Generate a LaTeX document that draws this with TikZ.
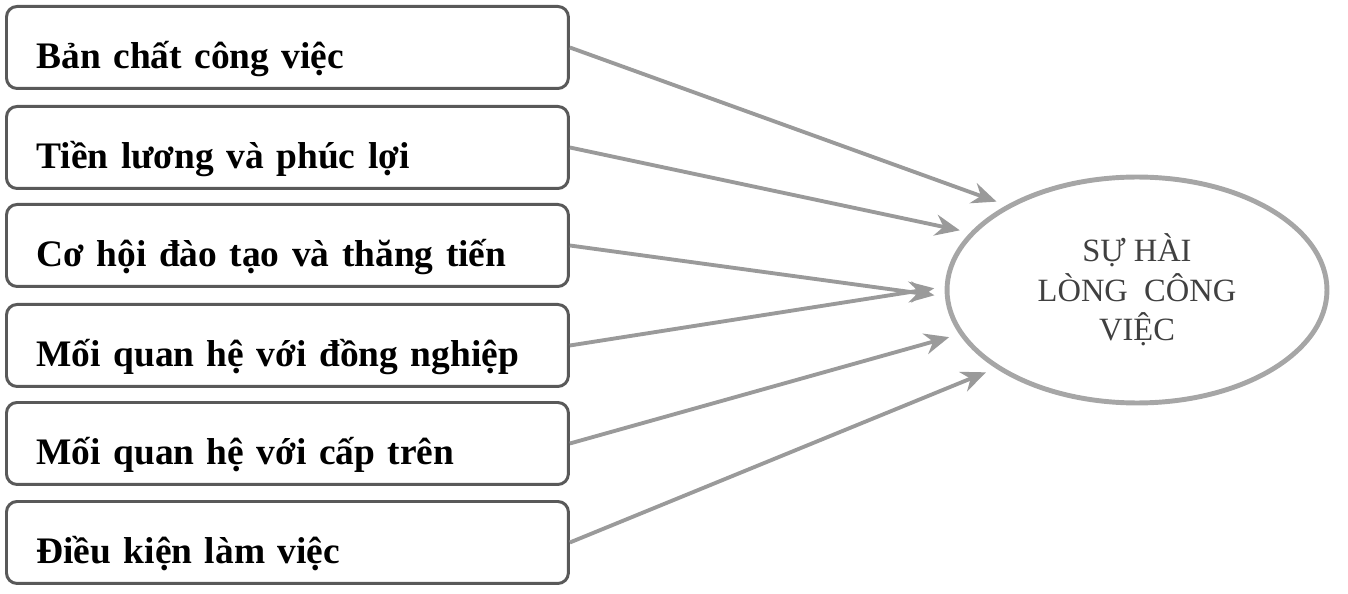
\documentclass[tikz,border=0pt]{standalone}
\usepackage{fontspec}
\setmainfont{Liberation Serif}
\usetikzlibrary{shapes.geometric,arrows.meta}
\definecolor{boxline}{HTML}{595959}
\definecolor{arrowgray}{HTML}{9A9A9A}
\definecolor{ringgray}{HTML}{A6A6A6}
\tikzset{
  factor/.style = {draw = boxline, line width = 1.7pt, rounded corners = 6pt, anchor = north west,
    minimum width = 11.24cm, inner xsep = 0.6cm, inner ysep = 0pt, text width = 10.04cm,
    text height = 1.24cm, text depth = 0.4cm, align = left, font = \fontsize{21.3}{24}\selectfont\bfseries},
  link/.style = {draw = arrowgray, line width = 2.2pt, -{Stealth[length = 14pt, width = 12pt]}, shorten > = 6pt}
}
\begin{document}
\begin{tikzpicture}[x = 0.02cm, y = -0.02cm]
\useasboundingbox (0,0) rectangle (1348,594);
\node[factor] (b1) at (5,5)   {Bản chất công việc};
\node[factor] (b2) at (5,105) {Tiền lương và phúc lợi};
\node[factor] (b3) at (5,203) {Cơ hội đào tạo và thăng tiến};
\node[factor] (b4) at (5,303) {Mối quan hệ với đồng nghiệp};
\node[factor] (b5) at (5,401) {Mối quan hệ với cấp trên};
\node[factor] (b6) at (5,500) {Điều kiện làm việc};
\node[ellipse, draw = ringgray, line width = 2.8pt, minimum width = 7.6cm, minimum height = 4.52cm,
  align = center, text = black!75, font = \fontsize{18.5}{22.5}\selectfont] (sat) at (1137,290)
  {SỰ HÀI\\LÒNG\ \ CÔNG\\VIỆC};
\draw[link] (b1.east) -- (sat.147);
\draw[link] (b2.east) -- (sat.161);
\draw[link] (b3.east) -- (sat.182);
\draw[link] (b4.east) -- (sat.179);
\draw[link] (b5.east) -- (sat.194);
\draw[link] (b6.east) -- (sat.209);
\end{tikzpicture}
\end{document}
